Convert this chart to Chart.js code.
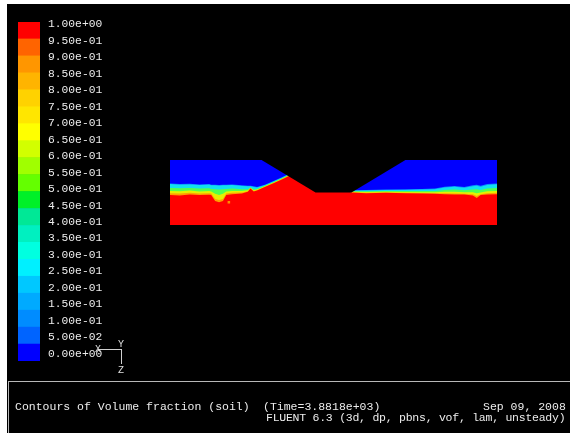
<!DOCTYPE html>
<html>
<head>
<meta charset="utf-8">
<script src="https://cdn.jsdelivr.net/npm/chart.js@4/dist/chart.umd.min.js"></script>
<style>
  html, body { margin: 0; padding: 0; background: #ffffff; }
  body { width: 570px; height: 434px; position: relative; overflow: hidden; }
  #frame { position: absolute; left: 7px; top: 4px; width: 563px; height: 429px; background: #000; }
  #panel { position: absolute; left: 8px; top: 381px; width: 562px; height: 51px; background: #000;
           border-top: 1px solid #b8b8b8; border-left: 1px solid #b8b8b8; }
  canvas { position: absolute; left: 0; top: 0; }
  .txt { position: absolute; color: #ececec; font-family: "Liberation Mono", "DejaVu Sans Mono", monospace;
         font-size: 11.5px; line-height: 12px; white-space: pre; }
  .ln { position: absolute; background: #d0d0d0; }
  .ax { position: absolute; color: #e0e0e0; font-family: "Liberation Mono", monospace; font-size: 10px; line-height: 10px; }
</style>
</head>
<body>
<div id="frame"></div>
<div id="panel"></div>
<canvas id="field" width="570" height="434"></canvas>
<canvas id="scale" width="140" height="380"></canvas>

<div class="txt" style="left:15px; top:401px;">Contours of Volume fraction (soil)</div>
<div class="txt" style="left:263px; top:401px;">(Time=3.8818e+03)</div>
<div class="txt" style="left:483px; top:401px;">Sep 09, 2008</div>
<div class="txt" style="left:266px; top:412px; letter-spacing:-0.25px;">FLUENT 6.3 (3d, dp, pbns, vof, lam, unsteady)</div>

<!-- orientation triad -->
<div class="ln" style="left:98px; top:349px; width:24px; height:1px;"></div>
<div class="ln" style="left:121px; top:349px; width:1px; height:15px;"></div>
<div class="ax" style="left:95px; top:345px;">X</div>
<div class="ax" style="left:118px; top:340px;">Y</div>
<div class="ax" style="left:118px; top:366px;">Z</div>

<script>
// Colour-scale levels (volume fraction of soil) and their printed labels
const legendValues = [0, 0.05, 0.10, 0.15, 0.20, 0.25, 0.30, 0.35, 0.40, 0.45, 0.50,
                      0.55, 0.60, 0.65, 0.70, 0.75, 0.80, 0.85, 0.90, 0.95, 1.00];
const legendLabels = ['0.00e+00', '5.00e-02', '1.00e-01', '1.50e-01', '2.00e-01', '2.50e-01',
                      '3.00e-01', '3.50e-01', '4.00e-01', '4.50e-01', '5.00e-01', '5.50e-01',
                      '6.00e-01', '6.50e-01', '7.00e-01', '7.50e-01', '8.00e-01', '8.50e-01',
                      '9.00e-01', '9.50e-01', '1.00e+00'];
const bandColors = ['#0000ff', '#0064ff', '#008cff', '#00aaff', '#00c8ff', '#00f0ff', '#00ffe0',
                    '#00f0c0', '#00e896', '#00f028', '#64ff00', '#a0ff00', '#d2ff00', '#ffff00',
                    '#ffe600', '#ffd200', '#ffb400', '#ff9600', '#ff6400', '#ff0000'];

// Section geometry: channel outline (x, y in model units)
const domainTop = [[0, 10], [50, 10]];
const trenchCut = [[14, 10], [22.25, 5], [27.75, 5], [36, 10]];

// Interface stations along x and the height of each contour level there
const xs = [0, 1.5, 3, 4.5, 6, 6.3, 6.9, 7.5, 8.1, 8.6, 9.5, 11, 11.9, 12.3, 12.8, 13.3, 14.5, 16, 17.2,
            18.2, 20, 22.5, 25, 27.75, 30, 33, 36, 38.5, 40.5, 42, 43.5, 45, 46.3, 46.9, 47.5, 48.5, 50];
const level10 = [6.4, 6.3, 6.35, 6.25, 6.3, 6.2, 6.2, 6.15, 6.2, 6.2, 6.25, 6.1, 6.05, 6.05, 5.95, 5.85, 6.2, 6.85, 7.4,
                 7.9, 8.5, 7.5, 6.2, 5.35, 5.4, 5.45, 5.5, 5.55, 5.6, 5.9, 6.0, 5.85, 6.1, 6.2, 6.05, 6.3, 6.4];
const level25 = [6.3, 6.2, 6.25, 6.15, 6.2, 6.1, 6.1, 6.05, 6.1, 6.1, 6.15, 6.0, 5.95, 5.95, 5.85, 5.78, 6.12, 6.77, 7.32,
                 7.82, 8.4, 7.4, 6.1, 5.27, 5.32, 5.37, 5.4, 5.45, 5.5, 5.78, 5.88, 5.72, 5.95, 6.05, 5.9, 6.15, 6.28];
const level45 = [5.7, 5.65, 5.7, 5.6, 5.65, 5.55, 5.5, 5.45, 5.5, 5.55, 5.6, 5.5, 5.5, 5.78, 5.45, 5.55, 6.03, 6.68, 7.23,
                 7.73, 8.3, 7.3, 6.0, 5.18, 5.18, 5.22, 5.22, 5.22, 5.25, 5.4, 5.45, 5.35, 5.45, 5.5, 5.4, 5.6, 5.7];
const level65 = [5.25, 5.2, 5.3, 5.15, 5.25, 5.15, 4.8, 4.6, 4.8, 5.15, 5.25, 5.25, 5.35, 5.72, 5.35, 5.45, 5.96, 6.6, 7.15,
                 7.65, 8.2, 7.2, 5.92, 5.1, 5.06, 5.1, 5.08, 5.05, 5.05, 5.12, 5.1, 5.05, 5.05, 4.9, 5.0, 5.2, 5.25];
const level85 = [4.9, 4.85, 4.95, 4.85, 4.9, 4.85, 4.0, 3.85, 4.0, 4.85, 4.95, 5.0, 5.2, 5.66, 5.22, 5.36, 5.9, 6.55, 7.1,
                 7.6, 8.1, 7.1, 5.85, 5.05, 4.97, 5.0, 4.97, 4.93, 4.9, 4.9, 4.85, 4.82, 4.75, 4.45, 4.75, 4.9, 4.95];
const level95 = [4.6, 4.55, 4.7, 4.6, 4.65, 4.6, 3.7, 3.5, 3.7, 4.6, 4.75, 4.85, 5.1, 5.6, 5.15, 5.3, 5.85, 6.5, 7.05,
                 7.55, 8.0, 7.0, 5.8, 5.0, 4.9, 4.95, 4.9, 4.85, 4.8, 4.75, 4.7, 4.7, 4.55, 4.15, 4.6, 4.7, 4.75];
// Isolated partially-filled cell inside the soil
const looseCell = [[9.0, 3.5]];

const fieldColors = { water: '#0000ff', lightBlue: '#0a8cff', cyan: '#10e0f0', green: '#50ff50',
                      yellow: '#e6f000', orange: '#ffa000', soil: '#ff0000' };

const toPts = (ys) => xs.map((x, i) => ({ x: x, y: ys[i] }));
const pairPts = (arr) => arr.map(p => ({ x: p[0], y: p[1] }));

function area(data, color, order, fill) {
  return { data: data, backgroundColor: color, borderColor: color, borderWidth: 0,
           pointRadius: 0, fill: fill || 'origin', order: order, tension: 0 };
}

new Chart(document.getElementById('field'), {
  type: 'line',
  data: {
    datasets: [
      area(pairPts(domainTop), fieldColors.water, 20),
      area(toPts(level10), fieldColors.lightBlue, 19),
      area(toPts(level25), fieldColors.cyan, 18),
      area(toPts(level45), fieldColors.green, 17),
      area(toPts(level65), fieldColors.yellow, 16),
      area(toPts(level85), fieldColors.orange, 15),
      area(toPts(level95), fieldColors.soil, 14),
      { data: pairPts(looseCell), showLine: false, pointStyle: 'rect', pointRadius: 1.8,
        pointBorderWidth: 0, backgroundColor: '#ff8c00', borderColor: '#ff8c00', order: 13 },
      area(pairPts(trenchCut), '#000000', 10, 'end')
    ]
  },
  options: {
    responsive: false, animation: false, devicePixelRatio: 1,
    layout: { padding: { left: 170, right: 73, top: 160, bottom: 209 } },
    plugins: { legend: { display: false }, tooltip: { enabled: false } },
    scales: {
      x: { type: 'linear', display: false, min: 0, max: 50 },
      y: { type: 'linear', display: false, min: 0, max: 10 }
    }
  }
});

new Chart(document.getElementById('scale'), {
  type: 'bar',
  data: {
    labels: [''],
    datasets: bandColors.map((c, i) => ({
      data: [[legendValues[i], legendValues[i + 1]]],
      backgroundColor: c, borderWidth: 0, grouped: false,
      categoryPercentage: 1, barPercentage: 1
    }))
  },
  options: {
    responsive: false, animation: false, devicePixelRatio: 1,
    layout: { padding: { left: 18, right: 0, top: 22, bottom: 19 } },
    plugins: { legend: { display: false }, tooltip: { enabled: false } },
    scales: {
      x: { display: false },
      y: { type: 'linear', display: false, min: 0, max: 1 },
      y2: {
        type: 'linear', position: 'right', min: -0.0212, max: 1.0061,
        grid: { display: false, drawTicks: false }, border: { display: false },
        afterFit: (s) => { s.width = 100; },
        afterBuildTicks: (s) => { s.ticks = legendValues.map(v => ({ value: v })); },
        ticks: {
          autoSkip: false, padding: 8, color: '#ececec',
          font: { family: 'Liberation Mono', size: 11.3 },
          callback: (v, i) => legendLabels[i]
        }
      }
    }
  }
});
</script>
</body>
</html>
